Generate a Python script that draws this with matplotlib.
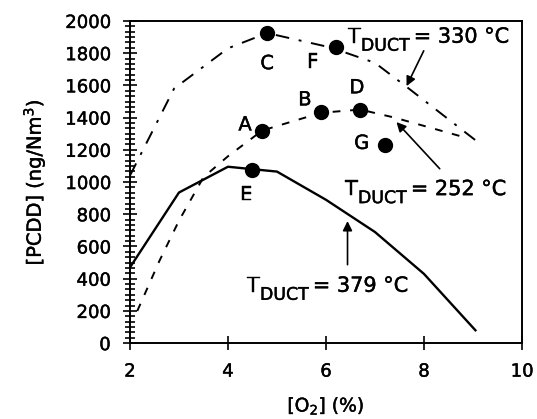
import matplotlib.pyplot as plt
import matplotlib.transforms as mtransforms
import matplotlib.patheffects as pe
from matplotlib.ticker import MultipleLocator

plt.rcParams['font.family'] = ['DejaVu Sans']

# T_DUCT = 379 C (solid)
o2_379 = [2.0, 3.0, 4.0, 5.0, 6.0, 7.0, 8.0, 9.05]
pcdd_379 = [470, 935, 1095, 1065, 890, 690, 430, 80]

# T_DUCT = 330 C (dash-dot)
o2_330 = [2.0, 2.9, 4.0, 4.8, 6.1, 7.0, 7.65, 9.05]
pcdd_330 = [1040, 1580, 1830, 1925, 1835, 1740, 1590, 1260]

# T_DUCT = 252 C (dashed)
o2_252 = [2.15, 2.6, 3.0, 3.5, 4.0, 4.7, 5.9, 6.7, 7.4, 8.8]
pcdd_252 = [200, 510, 760, 1030, 1160, 1320, 1430, 1450, 1400, 1280]

# measured points
pt_labels = ['A', 'B', 'C', 'D', 'E', 'F', 'G']
pt_o2 = [4.7, 5.9, 4.8, 6.7, 4.5, 6.2, 7.2]
pt_pcdd = [1320, 1435, 1925, 1450, 1075, 1840, 1230]
lab_off = [(-0.35, 35), (-0.33, 75), (0.0, -190), (-0.07, 135), (-0.12, -155), (-0.47, -95), (-0.47, 10)]

heavy = [pe.withStroke(linewidth=0.3, foreground='black')]

fig = plt.figure(figsize=(5.37, 4.19), dpi=100)
ax = fig.add_axes([0.242, 0.181, 0.730, 0.769])

ax.plot(o2_379, pcdd_379, color='black', lw=1.7)
ax.plot(o2_330, pcdd_330, color='black', lw=1.4, linestyle=(0, (7, 5, 1.5, 5)))
ax.plot(o2_252, pcdd_252, color='black', lw=1.4, linestyle=(0, (4, 5)))
ax.plot(pt_o2, pt_pcdd, 'o', color='black', ms=10)

for lab, x, y, (dx, dy) in zip(pt_labels, pt_o2, pt_pcdd, lab_off):
    ax.text(x + dx, y + dy, lab, fontsize=14, ha='center', va='center', path_effects=heavy)

fig.canvas.draw()
rend = fig.canvas.get_renderer()


def tduct(x, y, rest):
    t = ax.text(x, y, 'T', fontsize=15, va='baseline', path_effects=heavy)
    w = t.get_window_extent(rend).width
    tr = mtransforms.offset_copy(ax.transData, fig=fig, x=w, y=-8, units='dots')
    s = ax.text(x, y, 'DUCT', fontsize=12.5, va='baseline', transform=tr, path_effects=heavy)
    w2 = s.get_window_extent(rend).width
    tr2 = mtransforms.offset_copy(ax.transData, fig=fig, x=w + w2 + 4, y=0, units='dots')
    ax.text(x, y, rest, fontsize=15, va='baseline', transform=tr2, path_effects=heavy)


tduct(6.45, 1865, '= 330 °C')
ax.annotate('', xy=(7.62, 1580), xytext=(8.02, 1830),
            arrowprops=dict(arrowstyle='-|>', color='black', lw=1.2, mutation_scale=14))
tduct(6.39, 919, '= 252 °C')
ax.annotate('', xy=(7.4, 1385), xytext=(8.36, 1070),
            arrowprops=dict(arrowstyle='-|>', color='black', lw=1.2, mutation_scale=14))
tduct(4.39, 319, '= 379 °C')
ax.annotate('', xy=(6.44, 775), xytext=(6.44, 470),
            arrowprops=dict(arrowstyle='-|>', color='black', lw=1.2, mutation_scale=14))

ax.set_xlim(2, 10)
ax.set_ylim(0, 2000)
ax.set_xticks([2, 4, 6, 8, 10])
ax.set_yticks(range(0, 2001, 200))
ax.yaxis.set_minor_locator(MultipleLocator(200 / 6))
ax.tick_params(which='both', direction='inout', labelsize=13, width=1.2)
ax.tick_params(axis='x', length=10, pad=9)
ax.tick_params(axis='y', which='major', length=10, pad=9)
ax.tick_params(axis='y', which='minor', length=7)
for s in ax.spines.values():
    s.set_linewidth(1.4)
for lbl in ax.get_xticklabels() + ax.get_yticklabels():
    lbl.set_path_effects(heavy)

ax.set_xlabel(r'[O$_2$] (%)', fontsize=13.5, labelpad=10, path_effects=heavy)
ax.set_ylabel(r'[PCDD] (ng/Nm$^3$)', fontsize=14, labelpad=13, path_effects=heavy)

fig.savefig('out.png', dpi=100)
